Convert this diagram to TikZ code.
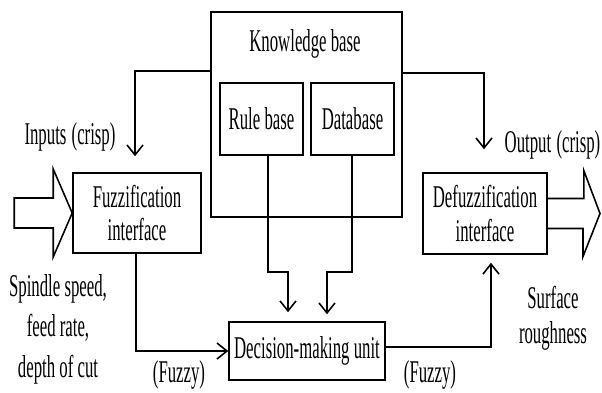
\documentclass[tikz,border=0pt]{standalone}
\usepackage{fontspec}
\setmainfont{Liberation Serif}[FakeStretch=0.53]
\usetikzlibrary{arrows.meta}

\begin{document}
\begin{tikzpicture}[line width=0.9pt,>={Straight Barb[length=2mm,width=3.2mm]},
  every node/.style={font=\fontsize{18}{19}\selectfont},
  block node/.style={draw,align=center,inner sep=0pt},
  text node/.style={align=center,inner sep=1pt}]
  \useasboundingbox (0,0) rectangle (12.04,-7.84);
  % boxes
  \node[block node,minimum width=3.82cm,minimum height=4.10cm] (kb) at (6.13,-2.29) {};
  \node[text node] (kbtitle) at (6.10,-0.88) {Knowledge base};
  \node[block node,minimum width=1.66cm,minimum height=1.44cm] (rule) at (5.23,-2.38) {Rule base};
  \node[block node,minimum width=1.66cm,minimum height=1.44cm] (db) at (7.05,-2.38) {Database};
  \node[block node,minimum width=2.56cm,minimum height=1.60cm] (fuzz) at (2.74,-4.26) {Fuzzification\\interface};
  \node[block node,minimum width=2.48cm,minimum height=1.62cm] (defuzz) at (9.70,-4.27) {Defuzzification\\interface};
  \node[block node,minimum width=3.12cm,minimum height=1.16cm] (dmu) at (6.14,-7.02) {Decision-making unit};
  % labels
  \node[text node] (inputs) at (1.40,-2.74) {Inputs\,(crisp)};
  \node[text node] (output) at (11.05,-2.90) {Output\,(crisp)};
  \node[text node,font=\fontsize{18}{23}\selectfont] (spindle) at (1.16,-6.58) {Spindle speed,\\feed rate,\\depth of cut};
  \node[text node,font=\fontsize{18}{20}\selectfont] (surface) at (11.06,-6.36) {Surface\\roughness};
  \node[text node] (fuzzyin) at (3.58,-7.50) {(Fuzzy)};
  \node[text node] (fuzzyout) at (8.60,-7.50) {(Fuzzy)};
  % connectors
  \coordinate (rulebend) at (5.76,-5.44);
  \coordinate (dbbend) at (6.54,-5.44);
  \draw[->,shorten >=3.2mm] ([yshift=8.7mm]kb.west) -| ([xshift=-0.4mm]fuzz.north);
  \draw[->,shorten >=4.6mm] ([yshift=8.3mm]kb.east) -| ([xshift=-0.2mm]defuzz.north);
  \draw[->] ([xshift=-0.2mm]fuzz.south) |- (dmu.west);
  \draw[->,shorten >=1.8mm] ([xshift=1.3mm]rule.south) |- (rulebend) -- (rulebend |- dmu.north);
  \draw[->,shorten >=1.4mm] ([xshift=-0.1mm]db.south) |- (dbbend) -- (dbbend |- dmu.north);
  \draw[->,shorten >=1.6mm] ([yshift=0.8mm]dmu.east) -| ([xshift=1.2mm]defuzz.south);
  % hollow input and output arrows
  \draw (fuzz.west) -- ++(-0.38,0.88) -- ++(0,-0.58) -- ++(-0.78,0) -- ++(0,-0.60)
    -- ++(0.78,0) -- ++(0,-0.58) -- cycle;
  \draw ([yshift=3mm]defuzz.east) -- ++(0.72,0) -- ++(0,0.56) -- (12.0,-4.27)
    -- ++(-0.34,-0.86) -- ++(0,0.56) -- ([yshift=-3mm]defuzz.east);
\end{tikzpicture}
\end{document}
